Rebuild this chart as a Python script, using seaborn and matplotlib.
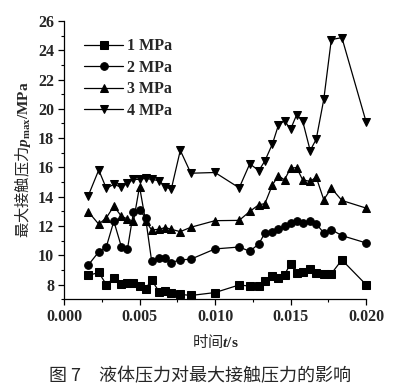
import matplotlib
matplotlib.use("Agg")
import matplotlib.pyplot as plt
from matplotlib.ticker import MultipleLocator, FormatStrFormatter
import seaborn as sns
import pandas as pd

t = [0.0016, 0.0023, 0.0028, 0.0033, 0.0038, 0.0042, 0.0046, 0.0050,
     0.0054, 0.0058, 0.0063, 0.0067, 0.0071, 0.0077, 0.0084, 0.0100,
     0.0116, 0.0123, 0.0129, 0.0133, 0.0138, 0.0142, 0.0146, 0.0150,
     0.0154, 0.0158, 0.0163, 0.0167, 0.0172, 0.0177, 0.0184, 0.0200]

p1 = [8.62, 8.82, 8.00, 8.44, 8.06, 8.10, 8.10, 7.90,
      7.72, 8.30, 7.51, 7.58, 7.44, 7.33, 7.25, 7.45,
      7.97, 7.89, 7.89, 8.23, 8.56, 8.42, 8.67, 9.42,
      8.79, 8.86, 9.07, 8.79, 8.74, 8.74, 9.68, 7.99]

p2 = [9.32, 10.23, 10.57, 12.32, 10.57, 10.41, 12.95, 13.07,
      12.57, 9.61, 9.84, 9.80, 9.50, 9.68, 9.73, 10.43,
      10.56, 10.27, 10.77, 11.52, 11.56, 11.79, 11.97, 12.20,
      12.31, 12.20, 12.36, 12.15, 11.52, 11.75, 11.34, 10.84]

p3 = [12.98, 12.12, 12.55, 13.35, 12.66, 12.48, 12.32, 14.69,
      12.34, 11.73, 11.77, 11.89, 11.77, 11.61, 11.91, 12.36,
      12.38, 12.99, 13.45, 13.52, 14.81, 15.42, 15.15, 15.94,
      15.99, 15.15, 15.04, 15.33, 13.79, 14.58, 13.74, 13.22]

p4 = [14.05, 15.82, 14.57, 14.84, 14.64, 14.91, 15.18, 15.18,
      15.25, 15.18, 15.09, 14.68, 14.50, 17.16, 15.60, 15.65,
      14.60, 16.24, 15.78, 16.44, 17.60, 18.89, 19.19, 18.60,
      19.58, 19.17, 17.15, 17.92, 20.64, 24.73, 24.86, 19.12]

labels = ["1 MPa", "2 MPa", "3 MPa", "4 MPa"]
series = [p1, p2, p3, p4]
markers = ["s", "o", "^", "v"]

xlabel_text = r"时间$t\mathrm{/s}$"
ylabel_text = r"最大接触压力$p_{\mathrm{max}}\mathrm{/MPa}$"
caption_text = "图 7　液体压力对最大接触压力的影响"

sns.set_theme(style="ticks")
plt.rcParams["font.family"] = ["Liberation Serif", "DejaVu Sans"]
plt.rcParams["mathtext.fontset"] = "custom"
plt.rcParams["mathtext.it"] = "Liberation Serif:italic:bold"
plt.rcParams["mathtext.rm"] = "Liberation Serif:bold"
plt.rcParams["mathtext.bf"] = "Liberation Serif:bold"

rows = []
for lab, vals in zip(labels, series):
    for ti, v in zip(t, vals):
        rows.append({"t": ti, "p": v, "series": lab})
df = pd.DataFrame(rows)

fig = plt.figure(figsize=(4.09, 3.88), dpi=100)
ax = fig.add_axes([0.1565, 0.229, 0.7385, 0.717])

for lab, mk in zip(labels, markers):
    sns.lineplot(data=df[df["series"] == lab], x="t", y="p", ax=ax,
                 color="black", marker=mk, markersize=5.5, linewidth=0.9,
                 markeredgecolor="black", markerfacecolor="black",
                 label=lab, estimator=None, sort=True, clip_on=False)

ax.set_xlim(0, 0.020)
ax.set_ylim(7, 26)
ax.xaxis.set_major_locator(MultipleLocator(0.005))
ax.xaxis.set_minor_locator(MultipleLocator(0.0025))
ax.yaxis.set_major_locator(MultipleLocator(2))
ax.yaxis.set_minor_locator(MultipleLocator(1))
ax.xaxis.set_major_formatter(FormatStrFormatter("%.3f"))
ax.set_yticks(range(8, 27, 2))

for s in ["top", "right"]:
    ax.spines[s].set_visible(False)
for s in ["left", "bottom"]:
    ax.spines[s].set_color("black")
    ax.spines[s].set_linewidth(0.9)

ax.tick_params(axis="both", which="major", direction="out", length=4,
               width=0.9, color="black", labelsize=11.5, pad=3)
ax.tick_params(axis="both", which="minor", direction="out", length=2,
               width=0.8, color="black")
for lbl in ax.get_xticklabels() + ax.get_yticklabels():
    lbl.set_fontweight("bold")
    lbl.set_family("Liberation Serif")

ax.set_xlabel(xlabel_text, fontsize=11, family="Noto Sans CJK SC", labelpad=6)
ax.set_ylabel(ylabel_text, fontsize=11, family="Noto Sans CJK SC", labelpad=4)

leg = ax.legend(loc="upper left", frameon=False, handlelength=2.4,
                handletextpad=0.25, labelspacing=0.35,
                bbox_to_anchor=(0.02, 0.99), borderaxespad=0.5,
                prop={"family": "Liberation Serif", "weight": "bold", "size": 11.5})

fig.text(0.49, 0.03, caption_text, ha="center", va="center", fontsize=13,
         family=["Noto Sans CJK SC", "DejaVu Sans"])

fig.savefig("out.png", dpi=100)
